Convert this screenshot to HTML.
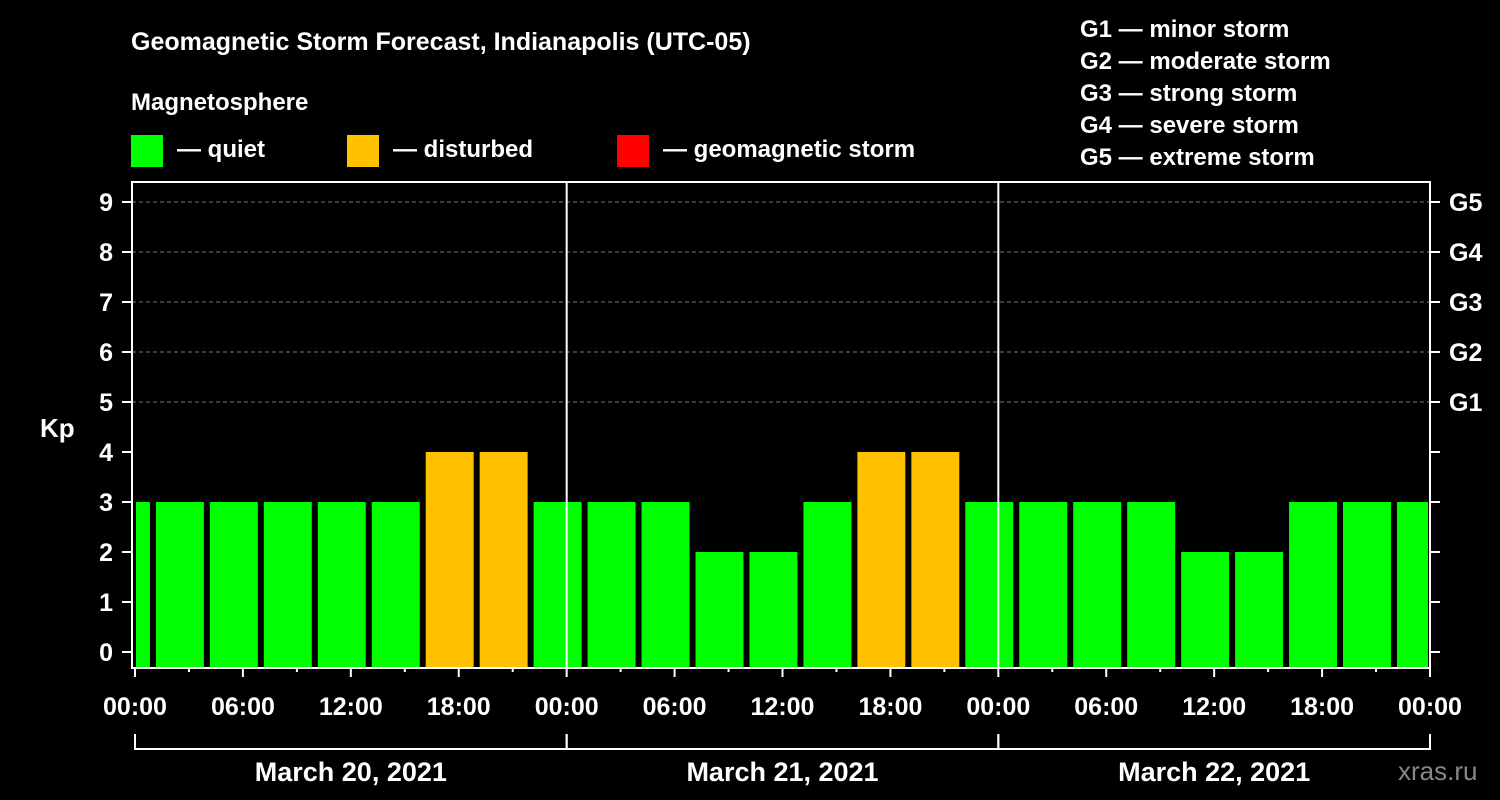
<!DOCTYPE html>
<html><head><meta charset="utf-8"><style>
html,body{margin:0;padding:0;background:#000;}
svg{display:block;font-family:"Liberation Sans",sans-serif;font-weight:bold;}
</style></head><body>
<svg width="1500" height="800" viewBox="0 0 1500 800">
<rect width="1500" height="800" fill="#000"/>
<text x="131" y="50" fill="#fff" font-size="25">Geomagnetic Storm Forecast, Indianapolis (UTC-05)</text>
<text x="131" y="110" fill="#fff" font-size="24">Magnetosphere</text>
<g><rect x="131" y="135" width="32" height="32" fill="#00ff00"/><text x="177" y="157" fill="#fff" font-size="24">— quiet</text></g>
<g><rect x="347" y="135" width="32" height="32" fill="#ffc000"/><text x="393" y="157" fill="#fff" font-size="24">— disturbed</text></g>
<g><rect x="617" y="135" width="32" height="32" fill="#ff0000"/><text x="663" y="157" fill="#fff" font-size="24">— geomagnetic storm</text></g>
<g fill="#fff" font-size="24">
<text x="1080" y="37">G1 — minor storm</text>
<text x="1080" y="69">G2 — moderate storm</text>
<text x="1080" y="101">G3 — strong storm</text>
<text x="1080" y="133">G4 — severe storm</text>
<text x="1080" y="165">G5 — extreme storm</text>
</g>
<text x="40" y="437" fill="#fff" font-size="26">Kp</text>
<text x="1398" y="780" fill="#888" font-size="26" font-weight="normal">xras.ru</text>
<g id="plot"></g>
</svg>
<script>
const kpValues = [3,3,3,3,3,3,4,4,3,3,3,2,2,3,4,4,3,3,3,3,2,2,3,3,3];
const yTicks = [0,1,2,3,4,5,6,7,8,9];
const gLabels = ["G1","G2","G3","G4","G5"];
const gLevels = [5,6,7,8,9];
const hourLabels = ["00:00","06:00","12:00","18:00"];
const dateLabels = ["March 20, 2021","March 21, 2021","March 22, 2021"];
const firstBarStartHour = -2.17;

const NS="http://www.w3.org/2000/svg";
const L=132,R=1430,T=182,B=668;
const xH=h=>135+h*(1295/72);
const yK=k=>652-k*50;
const g=document.getElementById('plot');
function mk(t,a,p){const e=document.createElementNS(NS,t);for(const k in a)e.setAttribute(k,a[k]);(p||g).appendChild(e);return e;}
// grid
gLevels.forEach(v=>{const e=mk('line',{x1:L,x2:R,y1:yK(v),y2:yK(v),stroke:'#777','stroke-dasharray':'4,3'});

});
// bars
kpValues.forEach((v,i)=>{
  const s=firstBarStartHour+3*i, en=s+3;
  let x1=xH(s)+6, x2=xH(en);
  x1=Math.max(x1,136); x2=Math.min(x2,1428);
  const c=v>=5?'#ff0000':(v>=4?'#ffc000':'#00ff00');
  const r=mk('rect',{x:x1,y:yK(v),width:x2-x1,height:B-yK(v),fill:c});
  
  
});
// day separators
[1,2].forEach(d=>{const e=mk('line',{x1:xH(24*d),x2:xH(24*d),y1:T,y2:B,stroke:'#fff','stroke-width':2});

});
// frame
const f=mk('rect',{x:L,y:T,width:R-L,height:B-T,fill:'none',stroke:'#fff','stroke-width':2});


// y ticks
yTicks.forEach(v=>{
  mk('line',{x1:122,x2:L,y1:yK(v),y2:yK(v),stroke:'#fff','stroke-width':2});
  mk('line',{x1:R,x2:1440,y1:yK(v),y2:yK(v),stroke:'#fff','stroke-width':2});
  const t=mk('text',{x:113,y:yK(v)+9,fill:'#fff','font-size':25,'text-anchor':'end'});t.textContent=v;
  
  
});
gLabels.forEach((s,i)=>{const t=mk('text',{x:1449,y:yK(gLevels[i])+9,fill:'#fff','font-size':25});t.textContent=s;

});
// x ticks
for(let h=0;h<=72;h+=3){
  const major=h%6===0;
  mk('line',{x1:xH(h),x2:xH(h),y1:B,y2:major?677:672,stroke:'#fff','stroke-width':2});
  if(major){const t=mk('text',{x:xH(h),y:715,fill:'#fff','font-size':25,'text-anchor':'middle'});t.textContent=hourLabels[(h/6)%4];
  
  }
}
// date brackets
dateLabels.forEach((s,d)=>{
  const a=xH(24*d),b=xH(24*(d+1));
  mk('line',{x1:a,x2:b,y1:749,y2:749,stroke:'#fff','stroke-width':2});
  mk('line',{x1:a,x2:a,y1:734,y2:750,stroke:'#fff','stroke-width':2});
  mk('line',{x1:b,x2:b,y1:734,y2:750,stroke:'#fff','stroke-width':2});
  const t=mk('text',{x:(a+b)/2,y:781,fill:'#fff','font-size':27,'text-anchor':'middle'});t.textContent=s;
  
  
});
</script>
</body></html>
